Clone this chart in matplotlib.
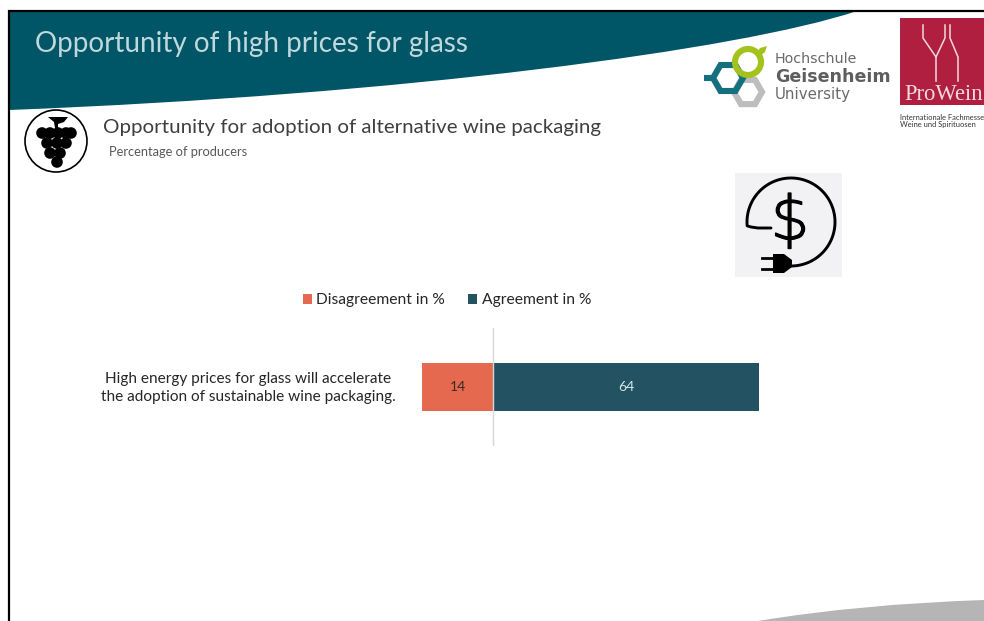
import numpy as np
import matplotlib
matplotlib.use("Agg")
import matplotlib.pyplot as plt
import matplotlib.patheffects as pe
from matplotlib.patches import Circle, PathPatch, Polygon, Rectangle, RegularPolygon
from matplotlib.path import Path
from matplotlib.transforms import ScaledTranslation

# ---- data ----
categories = ["High energy prices for glass will accelerate\nthe adoption of sustainable wine packaging."]
disagreement = [14]
agreement = [64]
series_names = ["Disagreement in %", "Agreement in %"]

FONT = "Lato"
TEAL = "#005566"
DARK = "#235362"
CORAL = "#E4694F"
TXT = "#3F3F3F"

plt.rcParams["font.family"] = [FONT, "DejaVu Sans"]
W, H = 984, 621
fig = plt.figure(figsize=(W / 100, H / 100), dpi=100, facecolor="white")

# ---- slide decoration, drawn in pixel coordinates ----
bg = fig.add_axes([0, 0, 1, 1], zorder=0)
bg.set_xlim(0, W)
bg.set_ylim(H, 0)
bg.axis("off")

banner = Path(
    [(9, 11), (857, 11), (740, 50), (400, 95), (9, 110), (9, 11)],
    [Path.MOVETO, Path.LINETO, Path.CURVE4, Path.CURVE4, Path.CURVE4, Path.CLOSEPOLY],
)
bg.add_patch(PathPatch(banner, fc=TEAL, ec="none"))
swoosh = Path(
    [(758, 621), (860, 604), (984, 600), (984, 621), (758, 621)],
    [Path.MOVETO, Path.CURVE3, Path.CURVE3, Path.LINETO, Path.CLOSEPOLY],
)
bg.add_patch(PathPatch(swoosh, fc="#B5B5B5", ec="none"))
bg.plot([9, 9], [10, H], color="black", lw=1.6, solid_capstyle="butt")
bg.plot([8, W], [10.5, 10.5], color="black", lw=1.6, solid_capstyle="butt")

bg.text(35, 44, "Opportunity of high prices for glass", color="#BFD8DC", fontsize=20.1, va="center")
bg.text(103, 128, "Opportunity for adoption of alternative wine packaging", color=TXT, fontsize=14.75, va="center")
bg.text(109, 152, "Percentage of producers", color="#595959", fontsize=9.25, va="center")

# grape icon
bg.add_patch(Circle((56, 141), 31, fc="white", ec="black", lw=1.2))
bg.add_patch(Polygon([(48, 117), (68, 117), (64, 122), (58, 124), (58, 128), (55, 128), (54, 122)], fc="black", ec="none"))
for y, xs in [(133, (42, 50, 58, 66, 71)), (143, (47, 57, 66)), (153, (50, 60)), (162, (57,))]:
    for x in xs:
        bg.add_patch(Circle((x, y), 5.8, fc="black", ec="none"))

# Geisenheim logo
bg.add_patch(RegularPolygon((748, 92), 6, radius=14, orientation=np.pi / 6, fc="none", ec="#BDBDBD", lw=4.4))
bg.add_patch(RegularPolygon((728, 78), 6, radius=15, orientation=np.pi / 6, fc="none", ec="#14707F", lw=4.4))
bg.plot([704, 714], [78, 78], color="#14707F", lw=4.4, solid_capstyle="butt")
bg.add_patch(Circle((748, 62), 13, fc="none", ec="#A4C21C", lw=4.4))
bg.add_patch(Polygon([(757, 53), (760, 48), (767, 46), (765, 52), (760, 56)], fc="#A4C21C", ec="none"))
bg.text(775, 59, "Hochschule", color="#6A6A6A", fontsize=10.3, va="center", family="DejaVu Sans")
bg.text(775, 77, "Geisenheim", color="#5E5E5E", fontsize=12.6, va="center", family="DejaVu Sans", weight="bold")
bg.text(775, 95, "University", color="#6A6A6A", fontsize=10.8, va="center", family="DejaVu Sans")

# ProWein logo
bg.add_patch(Rectangle((900, 18), 84, 87, fc="#B01F3F", ec="none"))
for xs, ys in [
    ((923, 923, 936, 936), (25, 38, 57, 81)),
    ((945, 945, 936), (25, 38, 57)),
    ((950, 950, 958, 958), (25, 38, 57, 81)),
]:
    bg.plot(xs, ys, color="#F0DADE", lw=1.1)
bg.text(904, 94, "ProWein", color="#F0DADE", fontsize=16.3, va="center", family="Liberation Serif")
bg.text(900, 117, "Internationale Fachmesse", color="#333333", fontsize=5.4, va="center")
bg.text(900, 124, "Weine und Spirituosen", color="#333333", fontsize=5.4, va="center")

# price icon
bg.add_patch(Rectangle((735, 173), 107, 104, fc="#F2F2F4", ec="none"))
theta = np.radians(np.linspace(185, -93, 120))
cx = 791 + 44 * np.cos(theta)
cy = 222 - 44 * np.sin(theta)
bg.plot(np.r_[771, 758, 751, cx], np.r_[228, 228, 227, cy], color="black", lw=2.1, solid_capstyle="round")
dollar = bg.text(790, 223, "$", color="black", fontsize=44, ha="center", va="center", family="DejaVu Sans", weight="light")
dollar.set_path_effects([pe.withStroke(linewidth=1.0, foreground="black")])
bg.add_patch(Polygon([(773, 254), (784, 254), (792, 260), (792, 267), (784, 273), (773, 273)], fc="black", ec="none"))
bg.plot([762, 774], [258, 258], color="black", lw=2)
bg.plot([762, 774], [269, 269], color="black", lw=2)

# ---- chart ----
left, right, top, bottom = 422, 759, 328, 446
ax = fig.add_axes([left / W, 1 - bottom / H, (right - left) / W, (bottom - top) / H], zorder=1)
ax.patch.set_alpha(0)

neg_stretch = (71 / 14) / (266 / 64)
ax.set_xscale(
    "function",
    functions=(
        lambda v: np.where(np.asarray(v) < 0, np.asarray(v) * neg_stretch, v),
        lambda v: np.where(np.asarray(v) < 0, np.asarray(v) / neg_stretch, v),
    ),
)
ypos = np.arange(len(categories))
bars_d = ax.barh(ypos, [-v for v in disagreement], height=0.4, color=CORAL, label=series_names[0])
bars_a = ax.barh(ypos, agreement, height=0.4, color=DARK, label=series_names[1])
ax.set_xlim(-disagreement[0], agreement[0])
ax.set_ylim(-0.5, 0.5)
ax.axvline(0, color="#D6D6D6", lw=1, zorder=3)

for b, v in zip(bars_d, disagreement):
    ax.text(b.get_x() + b.get_width() / 2, b.get_y() + b.get_height() / 2, str(v),
            ha="center", va="center", color="#3A2A25", fontsize=10)
for b, v in zip(bars_a, agreement):
    ax.text(b.get_x() + b.get_width() / 2, b.get_y() + b.get_height() / 2, str(v),
            ha="center", va="center", color="#D5E6E8", fontsize=10)

ax.set_xticks([])
ax.set_yticks(ypos, categories, multialignment="center", fontsize=11.1, color="#262626", linespacing=1.36)
ax.tick_params(axis="y", length=0, pad=19)
for lab in ax.get_yticklabels():
    lab.set_transform(lab.get_transform() + ScaledTranslation(0, 2 / 100, fig.dpi_scale_trans))
for s in ax.spines.values():
    s.set_visible(False)

fig.legend(
    handles=[bars_d, bars_a], labels=series_names, loc="center",
    bbox_to_anchor=(447 / W, 1 - 300.5 / H), ncol=2, frameon=False, fontsize=11.25,
    handlelength=0.58, handleheight=0.58, handletextpad=0.3, columnspacing=1.45,
    labelcolor="#262626",
)

fig.savefig("out.png", dpi=100)
